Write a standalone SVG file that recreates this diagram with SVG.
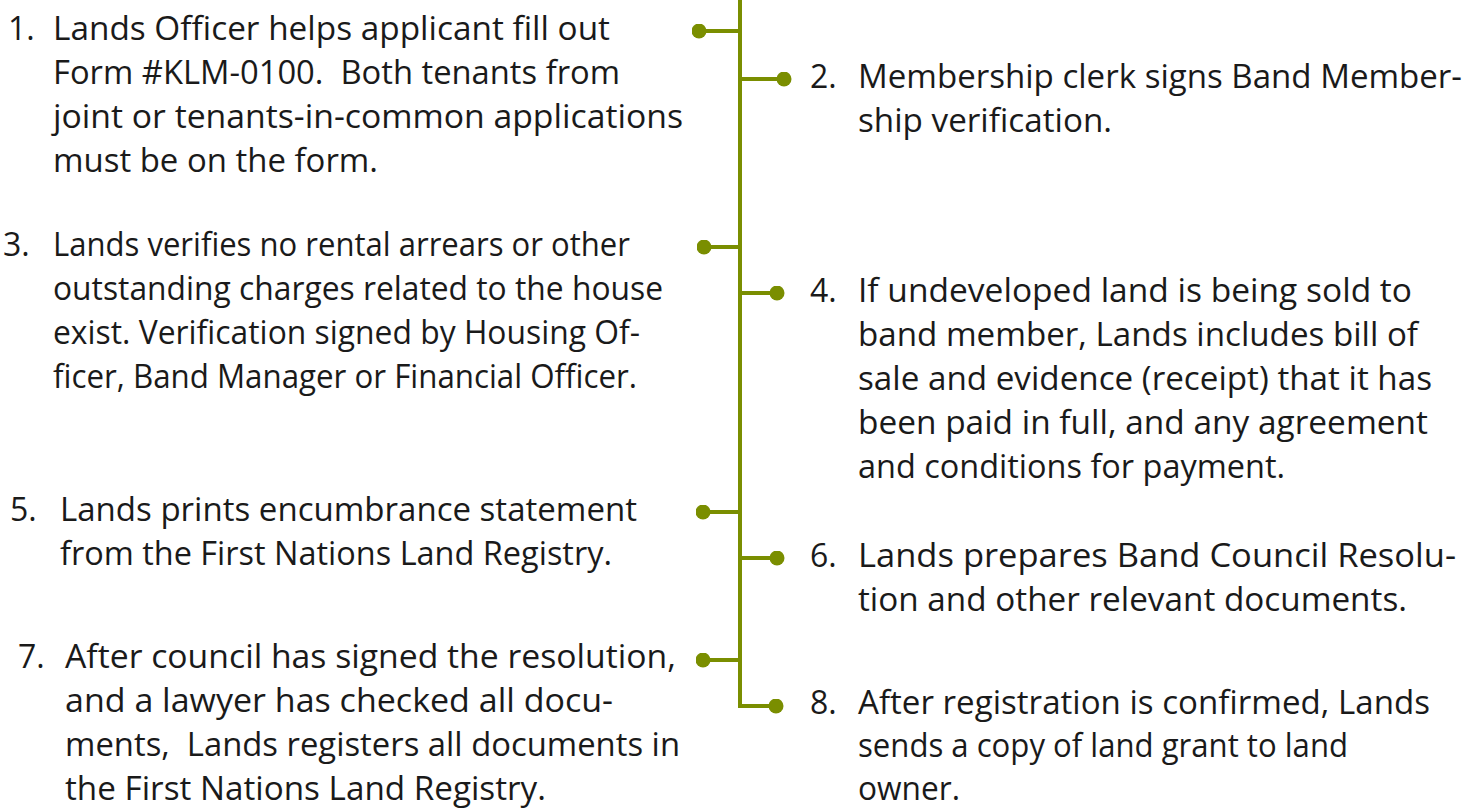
<svg xmlns="http://www.w3.org/2000/svg" width="1483" height="808" viewBox="0 0 1483 808">
<style>
.t{font-family:"Open Sans","Noto Sans","Liberation Sans",sans-serif;font-size:32px;fill:#1a1a1a;white-space:pre}
.ln{stroke:#7a8e00;stroke-width:4;fill:none}
</style>
<defs>
<marker id="dot" viewBox="0 0 16 16" refX="8" refY="8" markerWidth="15" markerHeight="15" markerUnits="userSpaceOnUse">
<circle cx="8" cy="8" r="8" fill="#7a8e00"/>
</marker>
</defs>
<rect width="1483" height="808" fill="#fff"/>
<g id="connectors">
<path class="ln" d="M740,0 V706"/>
<path class="ln" d="M740,31 H699" marker-end="url(#dot)"/>
<path class="ln" d="M740,79 H784" marker-end="url(#dot)"/>
<path class="ln" d="M740,247 H704" marker-end="url(#dot)"/>
<path class="ln" d="M740,293 H777" marker-end="url(#dot)"/>
<path class="ln" d="M740,512 H703" marker-end="url(#dot)"/>
<path class="ln" d="M740,558 H777" marker-end="url(#dot)"/>
<path class="ln" d="M740,660 H703" marker-end="url(#dot)"/>
<path class="ln" d="M740,704 V706 H776" marker-end="url(#dot)"/>
</g>
<g id="step1">
<text class="t" x="8" y="40">1.</text>
<text class="t" x="53" y="40" textLength="557" lengthAdjust="spacingAndGlyphs">Lands Officer helps applicant fill out</text>
<text class="t" x="53" y="84" textLength="567" lengthAdjust="spacingAndGlyphs">Form #KLM-0100.  Both tenants from</text>
<text class="t" x="53" y="128" textLength="630" lengthAdjust="spacingAndGlyphs">joint or tenants-in-common applications</text>
<text class="t" x="53" y="172" textLength="325" lengthAdjust="spacingAndGlyphs">must be on the form.</text>
</g>
<g id="step2">
<text class="t" x="810" y="88">2.</text>
<text class="t" x="858" y="88" textLength="604" lengthAdjust="spacingAndGlyphs">Membership clerk signs Band Member-</text>
<text class="t" x="858" y="132" textLength="254" lengthAdjust="spacingAndGlyphs">ship verification.</text>
</g>
<g id="step3">
<text class="t" x="3" y="256">3.</text>
<text class="t" x="53" y="256" textLength="577" lengthAdjust="spacingAndGlyphs">Lands verifies no rental arrears or other</text>
<text class="t" x="53" y="300" textLength="610" lengthAdjust="spacingAndGlyphs">outstanding charges related to the house</text>
<text class="t" x="53" y="344" textLength="587" lengthAdjust="spacingAndGlyphs">exist. Verification signed by Housing Of-</text>
<text class="t" x="53" y="388" textLength="584" lengthAdjust="spacingAndGlyphs">ficer, Band Manager or Financial Officer.</text>
</g>
<g id="step4">
<text class="t" x="810" y="302">4.</text>
<text class="t" x="858" y="302" textLength="554" lengthAdjust="spacingAndGlyphs">If undeveloped land is being sold to</text>
<text class="t" x="858" y="346" textLength="560" lengthAdjust="spacingAndGlyphs">band member, Lands includes bill of</text>
<text class="t" x="858" y="390" textLength="574" lengthAdjust="spacingAndGlyphs">sale and evidence (receipt) that it has</text>
<text class="t" x="858" y="434" textLength="570" lengthAdjust="spacingAndGlyphs">been paid in full, and any agreement</text>
<text class="t" x="858" y="478" textLength="427" lengthAdjust="spacingAndGlyphs">and conditions for payment.</text>
</g>
<g id="step5">
<text class="t" x="10" y="521">5.</text>
<text class="t" x="60" y="521" textLength="577" lengthAdjust="spacingAndGlyphs">Lands prints encumbrance statement</text>
<text class="t" x="60" y="565" textLength="552" lengthAdjust="spacingAndGlyphs">from the First Nations Land Registry.</text>
</g>
<g id="step6">
<text class="t" x="810" y="567">6.</text>
<text class="t" x="858" y="567" textLength="598" lengthAdjust="spacingAndGlyphs">Lands prepares Band Council Resolu-</text>
<text class="t" x="858" y="611" textLength="549" lengthAdjust="spacingAndGlyphs">tion and other relevant documents.</text>
</g>
<g id="step7">
<text class="t" x="18" y="668">7.</text>
<text class="t" x="65" y="668" textLength="611" lengthAdjust="spacingAndGlyphs">After council has signed the resolution,</text>
<text class="t" x="65" y="712" textLength="548" lengthAdjust="spacingAndGlyphs">and a lawyer has checked all docu-</text>
<text class="t" x="65" y="756" textLength="615" lengthAdjust="spacingAndGlyphs">ments,  Lands registers all documents in</text>
<text class="t" x="65" y="800" textLength="481" lengthAdjust="spacingAndGlyphs">the First Nations Land Registry.</text>
</g>
<g id="step8">
<text class="t" x="810" y="714">8.</text>
<text class="t" x="858" y="714" textLength="572" lengthAdjust="spacingAndGlyphs">After registration is confirmed, Lands</text>
<text class="t" x="858" y="757" textLength="490" lengthAdjust="spacingAndGlyphs">sends a copy of land grant to land</text>
<text class="t" x="858" y="800" textLength="102" lengthAdjust="spacingAndGlyphs">owner.</text>
</g>
</svg>
